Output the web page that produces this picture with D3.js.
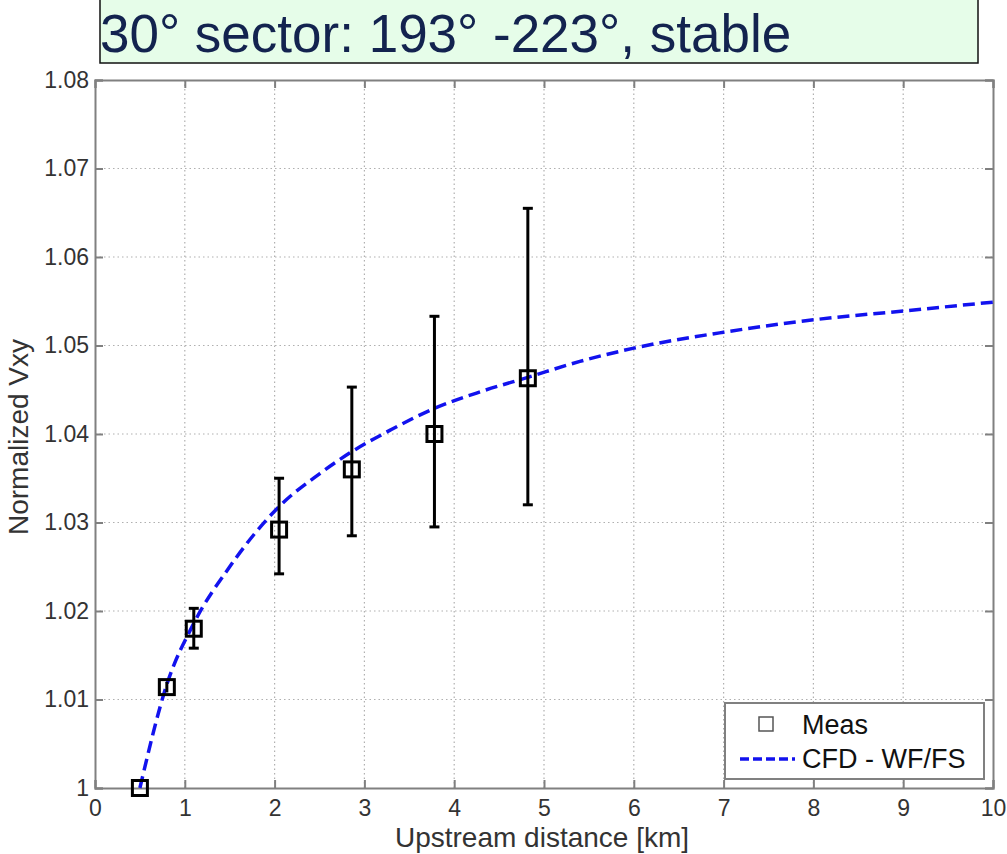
<!DOCTYPE html>
<html>
<head>
<meta charset="utf-8">
<script src="https://cdn.jsdelivr.net/npm/d3@7"></script>
<style>
  html, body { margin: 0; padding: 0; background: #fff; }
  svg { display: block; font-family: "Liberation Sans", Arial, sans-serif; }
</style>
</head>
<body>
<svg id="chart" width="1007" height="854"></svg>
<script>
// ---- data ----
const titleText = "30\u00B0 sector: 193\u00B0 -223\u00B0, stable";
const xLabel = "Upstream distance [km]";
const yLabel = "Normalized Vxy";
const xTicks = [0, 1, 2, 3, 4, 5, 6, 7, 8, 9, 10];
const yTicks = [1, 1.01, 1.02, 1.03, 1.04, 1.05, 1.06, 1.07, 1.08];
const yTickLabels = ["1", "1.01", "1.02", "1.03", "1.04", "1.05", "1.06", "1.07", "1.08"];

const measX    = [0.5,   0.8,    1.1,    2.05,   2.86,   3.78,   4.82];
const measY    = [1.000, 1.0114, 1.0180, 1.0292, 1.0360, 1.0400, 1.0463];
const measLow  = [1.000, 1.0108, 1.0158, 1.0242, 1.0285, 1.0295, 1.0320];
const measHigh = [1.000, 1.0120, 1.0203, 1.0350, 1.0453, 1.0533, 1.0655];

const cfdX = [0.5,   0.8,    1.1,    1.5,    2.05,   2.5,    2.86,   3.3,    3.78,   4.3,    4.82,   5.4,    6,      7,      8,      9,      10];
const cfdY = [1.000, 1.0117, 1.0186, 1.0250, 1.0318, 1.0355, 1.0380, 1.0405, 1.0429, 1.0448, 1.0464, 1.0482, 1.0497, 1.0515, 1.0529, 1.0539, 1.0549];

const legendLabels = ["Meas", "CFD - WF/FS"];

// ---- layout ----
const svg = d3.select("#chart");
const L = 95, R = 993, T = 80, B = 788;
const x = d3.scaleLinear().domain([0, 10]).range([L, R]);
const y = d3.scaleLinear().domain([1, 1.08]).range([B, T]);

const axisColor = "#808080";
const gridColor = "#b0b0b0";
const textColor = "#333333";

// title box
svg.append("rect")
  .attr("x", 100).attr("y", -2).attr("width", 878).attr("height", 65)
  .attr("fill", "#e6fde9").attr("stroke", "#111").attr("stroke-width", 1.5);
svg.append("text")
  .attr("x", 100).attr("y", 52)
  .attr("font-size", 53).attr("fill", "#13234f")
  .text(titleText);

// plot background
svg.append("rect").attr("x", L).attr("y", T).attr("width", R - L).attr("height", B - T).attr("fill", "#fff");

// grid
const grid = svg.append("g");
grid.selectAll(".gx").data(xTicks.slice(1, -1)).join("line")
  .attr("x1", d => x(d)).attr("x2", d => x(d)).attr("y1", T).attr("y2", B)
  .attr("stroke", gridColor).attr("stroke-width", 1.2).attr("stroke-dasharray", "1.5,3");
grid.selectAll(".gy").data(yTicks.slice(1, -1)).join("line")
  .attr("y1", d => y(d)).attr("y2", d => y(d)).attr("x1", L).attr("x2", R)
  .attr("stroke", gridColor).attr("stroke-width", 1.2).attr("stroke-dasharray", "1.5,3");

// axes (inward ticks on all sides)
const tl = 8;
const axB = svg.append("g").attr("transform", `translate(0,${B})`)
  .call(d3.axisBottom(x).tickValues(xTicks).tickSize(-tl).tickPadding(12).tickFormat(d3.format("d")));
const axT = svg.append("g").attr("transform", `translate(0,${T})`)
  .call(d3.axisTop(x).tickValues(xTicks).tickSize(-tl).tickFormat(""));
const axL = svg.append("g").attr("transform", `translate(${L},0)`)
  .call(d3.axisLeft(y).tickValues(yTicks).tickSize(-tl).tickPadding(6).tickFormat((d, i) => yTickLabels[i]));
const axR = svg.append("g").attr("transform", `translate(${R},0)`)
  .call(d3.axisRight(y).tickValues(yTicks).tickSize(-tl).tickFormat(""));
[axB, axT, axL, axR].forEach(a => {
  a.select(".domain").attr("stroke", axisColor).attr("stroke-width", 2);
  a.selectAll(".tick line").attr("stroke", axisColor).attr("stroke-width", 2);
  a.selectAll(".tick text").attr("fill", textColor).attr("font-size", 23)
    .attr("font-family", "'Liberation Sans', Arial, sans-serif");
});
axB.selectAll(".tick text").attr("dy", "0.71em");

// axis labels
svg.append("text").attr("x", (L + R) / 2 - 2).attr("y", 847)
  .attr("text-anchor", "middle").attr("font-size", 28).attr("fill", textColor).text(xLabel);
svg.append("text").attr("transform", `translate(28,${(T + B) / 2 + 3}) rotate(-90)`)
  .attr("text-anchor", "middle").attr("font-size", 28).attr("fill", textColor).text(yLabel);

// CFD line
const line = d3.line().x(d => x(d[0])).y(d => y(d[1])).curve(d3.curveMonotoneX);
svg.append("path").datum(cfdX.map((v, i) => [v, cfdY[i]]))
  .attr("d", line).attr("fill", "none").attr("stroke", "#1212ee")
  .attr("stroke-width", 3.5).attr("stroke-dasharray", "12,6");

// error bars + squares
const meas = measX.map((v, i) => ({ x: v, y: measY[i], lo: measLow[i], hi: measHigh[i] }));
const eb = svg.append("g").attr("stroke", "#000").attr("stroke-width", 3);
eb.selectAll(".v").data(meas.filter(d => d.hi > d.lo)).join("line")
  .attr("x1", d => x(d.x)).attr("x2", d => x(d.x)).attr("y1", d => y(d.lo)).attr("y2", d => y(d.hi));
eb.selectAll(".ct").data(meas.filter(d => d.hi - d.lo > 0.002)).join("line")
  .attr("x1", d => x(d.x) - 5).attr("x2", d => x(d.x) + 5).attr("y1", d => y(d.hi)).attr("y2", d => y(d.hi));
eb.selectAll(".cb").data(meas.filter(d => d.hi - d.lo > 0.002)).join("line")
  .attr("x1", d => x(d.x) - 5).attr("x2", d => x(d.x) + 5).attr("y1", d => y(d.lo)).attr("y2", d => y(d.lo));
const sq = 15;
svg.append("g").selectAll("rect").data(meas).join("rect")
  .attr("x", d => x(d.x) - sq / 2).attr("y", d => y(d.y) - sq / 2)
  .attr("width", sq).attr("height", sq)
  .attr("fill", "none").attr("stroke", "#000").attr("stroke-width", 3);

// legend
const lg = svg.append("g");
lg.append("rect").attr("x", 725).attr("y", 703).attr("width", 259).attr("height", 76)
  .attr("fill", "#fff").attr("stroke", axisColor).attr("stroke-width", 2);
lg.append("rect").attr("x", 759).attr("y", 717).attr("width", 14).attr("height", 14)
  .attr("fill", "none").attr("stroke", "#555").attr("stroke-width", 1.5);
lg.append("line").attr("x1", 740).attr("x2", 795).attr("y1", 759).attr("y2", 759)
  .attr("stroke", "#1212ee").attr("stroke-width", 3.5).attr("stroke-dasharray", "9,4");
lg.append("text").attr("x", 802).attr("y", 734).attr("font-size", 27).attr("fill", "#111").text(legendLabels[0]);
lg.append("text").attr("x", 802).attr("y", 768).attr("font-size", 27).attr("fill", "#111").text(legendLabels[1]);
</script>
</body>
</html>
